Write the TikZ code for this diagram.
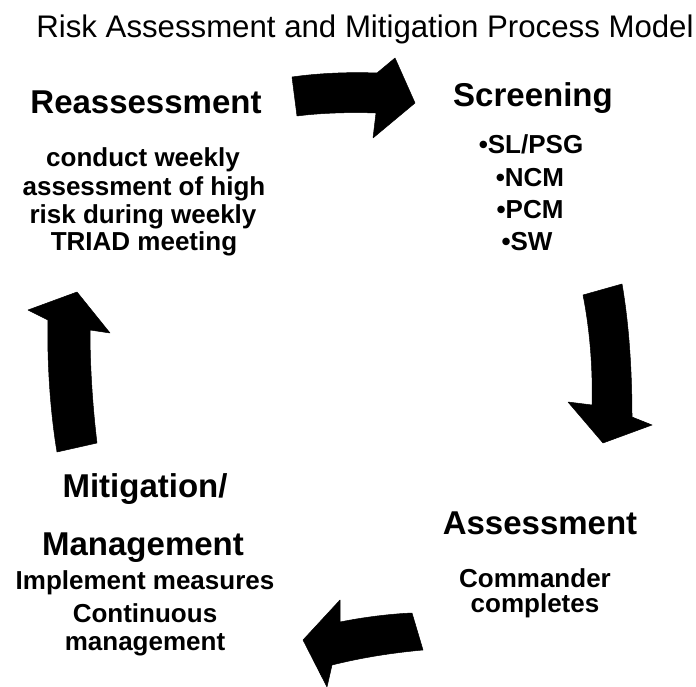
\documentclass[tikz,border=0pt]{standalone}
\usepackage{fontspec}
\setmainfont{Liberation Sans}
\begin{document}
\begin{tikzpicture}[x=1pt,y=-1pt,
  title/.style={font=\fontsize{31.2}{34}\selectfont, anchor=mid, inner sep=0pt},
  head/.style={font=\fontsize{33}{38}\selectfont\bfseries, anchor=mid, inner sep=0pt},
  body/.style={font=\fontsize{26}{29}\selectfont\bfseries, anchor=mid, inner sep=0pt},
  bigarrow/.style={fill=black, draw=black, line width=0.5pt, line join=round}]
\path[use as bounding box] (0,0) rectangle (696,687);
% title
\node[title] (title) at (365,35) {Risk Assessment and Mitigation Process Model};
% Reassessment
\node[head] (reas) at (146,111) {Reassessment};
\node[body] (r1) at (143,164) {conduct weekly};
\node[body] (r2) at (144,193) {assessment of high};
\node[body] (r3) at (143,221) {risk during weekly};
\node[body] (r4) at (144,248) {TRIAD meeting};
% Screening
\node[head] (scr) at (533,104) {Screening};
\node[body] (s1) at (531,151) {•SL/PSG};
\node[body] (s2) at (530,184) {•NCM};
\node[body] (s3) at (530,216) {•PCM};
\node[body] (s4) at (527,248) {•SW};
% Assessment
\node[head] (ass) at (540,532) {Assessment};
\node[body] (a1) at (535,585) {Commander};
\node[body] (a2) at (535,610) {completes};
% Mitigation
\node[head] (mit) at (145,495) {Mitigation/};
\node[head] (man) at (143,553) {Management};
\node[body] (m1) at (145,587) {Implement measures};
\node[body] (m2) at (145,620) {Continuous};
\node[body] (m3) at (145,648) {management};
% arrows
\fill[bigarrow] (292,77) .. controls (320,73) and (350,72) .. (377,73)
  -- (395,58) -- (415,103) -- (373,138) -- (376,113)
  .. controls (350,112) and (320,113) .. (297,116) -- cycle;
\fill[bigarrow] (583,295) -- (622,284)
  .. controls (630,330) and (632,380) .. (632,417)
  -- (652,425) -- (603,443) -- (568,402) -- (592,405)
  .. controls (593,370) and (590,330) .. cycle;
\fill[bigarrow] (412,613) -- (423,650)
  .. controls (390,653) and (360,658) .. (332,665)
  -- (327,687) -- (303,640) -- (340,600) -- (340,622)
  .. controls (365,617) and (390,614) .. cycle;
\fill[bigarrow] (28,310) -- (77,292) -- (110,333) -- (90,330)
  .. controls (90,370) and (93,410) .. (97,443)
  -- (57,452)
  .. controls (50,410) and (47,360) .. (48,320) -- cycle;
\end{tikzpicture}
\end{document}
